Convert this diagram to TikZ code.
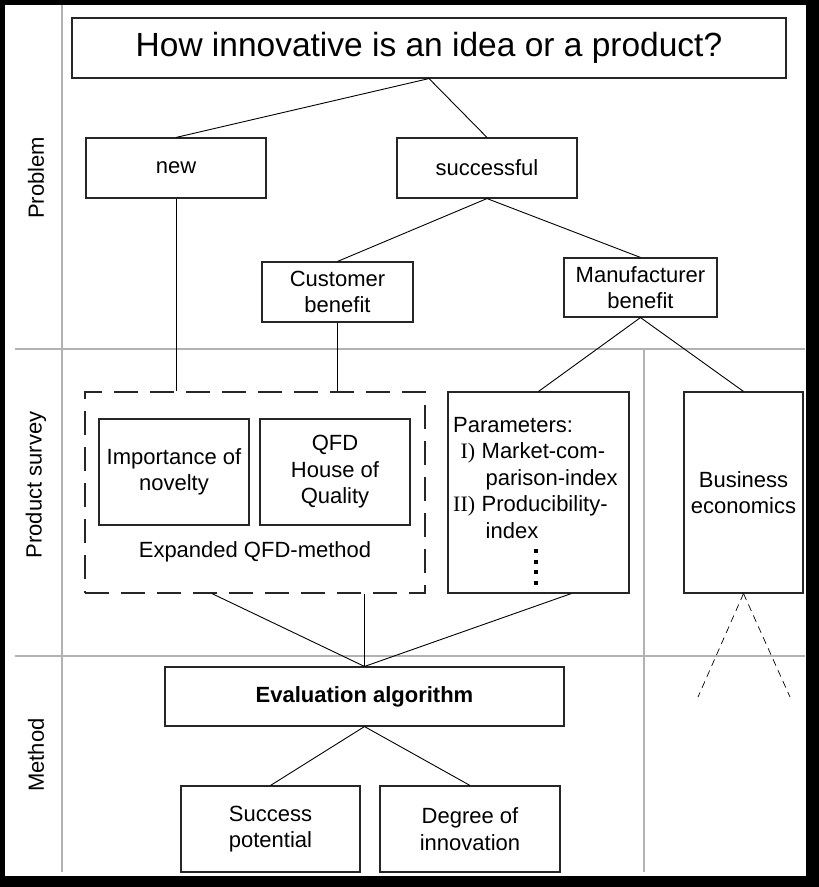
\documentclass[tikz,border=0pt]{standalone}
\usepackage{fontspec}
\setmainfont{Liberation Sans}
\newfontfamily\numfont{Liberation Serif}
\usetikzlibrary{calc}

\tikzset{
  box/.style={draw=black!85, line width=1.1pt, inner sep=0pt, align=center,
    font=\fontsize{22}{26.5}\selectfont},
  link/.style={draw=black, line width=0.9pt},
  lane/.style={draw=gray!60, line width=1.1pt},
  lanelabel/.style={rotate=90, font=\fontsize{22}{26.5}\selectfont},
}

\begin{document}
\begin{tikzpicture}[x=1pt, y=-1pt]
% Frame
\fill[black] (0,0) rectangle (819,887);
\fill[white] (5,5) rectangle (806,876);

% Lanes
\draw[lane] (62,5) -- (62,872);
\draw[lane] (15,349) -- (805,349);
\draw[lane] (15,656) -- (805,656);
\draw[lane] (644,349) -- (644,872);
\node[lanelabel] (problem) at (36,178) {Problem};
\node[lanelabel] (survey) at (36,485) {Product survey};
\node[lanelabel] (method) at (36,755) {Method};

% Problem
\node[box, minimum width=714pt, minimum height=60pt, font=\fontsize{33.5}{40}\selectfont] (question) at (429,48) {How innovative is an idea or a product?};
\node[box, minimum width=180pt, minimum height=60pt] (new) at (176,168) {new};
\node[box, minimum width=180pt, minimum height=60pt] (successful) at (487,168) {successful};
\node[box, minimum width=151pt, minimum height=60pt] (customer) at (337.5,292) {Customer\\benefit};
\node[box, minimum width=153pt, minimum height=59pt] (manufacturer) at (640.5,287.5) {Manufacturer\\benefit};

% Product survey
\node[box, dash pattern=on 24pt off 12pt, line width=1.5pt, minimum width=340pt, minimum height=201pt] (qfdmethod) at (255,492.5) {};
\node[box, minimum width=150pt, minimum height=106pt] (novelty) at (174,472) {Importance of\\novelty};
\node[box, minimum width=150pt, minimum height=106pt] (quality) at (335,472) {QFD\\House of\\Quality};
\node[font=\fontsize{22}{26.5}\selectfont] (expanded) at (255,552) {Expanded QFD-method};
\node[box, minimum width=181pt, minimum height=201pt] (parameters) at (538.5,492.5) {};
\node[anchor=base west, inner sep=0pt, font=\fontsize{22}{26.5}\selectfont] (paramtext) at (453,432) {%
  \begin{tabular}[t]{@{}r@{\hspace{6.5pt}}l@{}}
    \multicolumn{2}{@{}l@{}}{Parameters:}\\
    {\numfont I)} & Market-com-\\
    & \hspace{4pt}parison-index\\
    {\numfont II)} & Producibility-\\
    & \hspace{4pt}index
  \end{tabular}};
\fill (533.5,549) rectangle +(4,4);
\fill (533.5,559.5) rectangle +(4,4);
\fill (533.5,570) rectangle +(4,4);
\fill (533.5,580.5) rectangle +(4,4);
\node[box, minimum width=119pt, minimum height=201pt] (business) at (743.5,492.5) {Business\\economics};

% Method
\node[box, minimum width=399pt, minimum height=59pt, font=\fontsize{22}{26.5}\selectfont\bfseries] (evaluation) at (364.5,696.5) {Evaluation algorithm};
\node[box, minimum width=179pt, minimum height=86pt] (success) at (270.5,829) {Success\\potential};
\node[box, minimum width=180pt, minimum height=86pt] (degree) at (470,829) {Degree of\\innovation};

% Connections
\draw[link] (question.south) -- (new.north);
\draw[link] (question.south) -- (successful.north);
\draw[link] (successful.south) -- (customer.north);
\draw[link] (successful.south) -- (manufacturer.north);
\draw[link] (manufacturer.south) -- (parameters.north);
\draw[link] (manufacturer.south) -- (business.north);
\draw[link] (new.south) -- (new.south |- qfdmethod.north);
\draw[link] (customer.south) -- (customer.south |- qfdmethod.north);
\draw[link] ($(qfdmethod.south west)!0.375!(qfdmethod.south east)$) -- (evaluation.north);
\draw[link] (evaluation.north |- qfdmethod.south) -- (evaluation.north);
\draw[link] ($(parameters.south west)!0.68!(parameters.south east)$) -- (evaluation.north);
\draw[link] (evaluation.south) -- (success.north);
\draw[link] (evaluation.south) -- (degree.north);

% open branch below business economics
\coordinate (busleft) at (698,697);
\coordinate (busright) at (790,697);
\draw[link, line width=0.7pt, dash pattern=on 7pt off 5pt] (business.south) -- (busleft);
\draw[link, line width=0.7pt, dash pattern=on 7pt off 5pt] (business.south) -- (busright);
\end{tikzpicture}
\end{document}
